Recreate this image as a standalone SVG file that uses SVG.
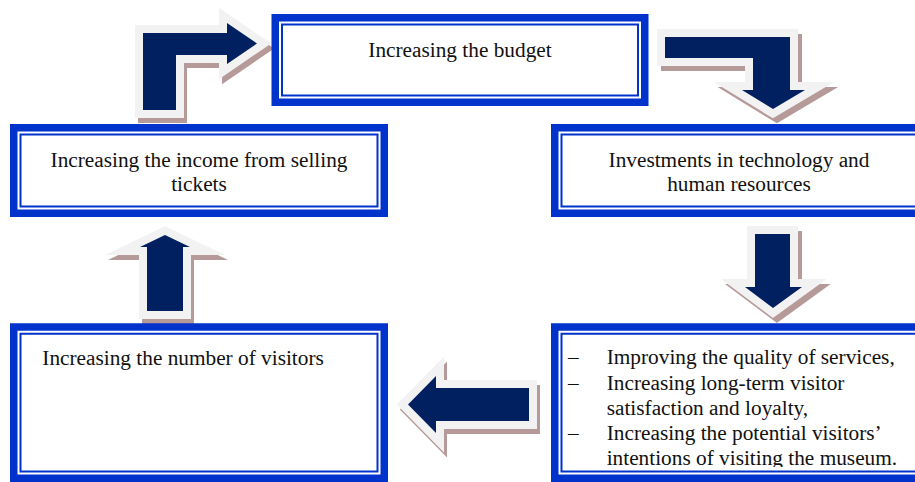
<svg xmlns="http://www.w3.org/2000/svg" xmlns:xlink="http://www.w3.org/1999/xlink" width="915" height="482" viewBox="0 0 915 482">
<style>
.sh{fill:#b69a9a;stroke:#b69a9a;stroke-width:16;stroke-linejoin:miter;stroke-miterlimit:10}
.ar{fill:#002060;stroke:#f2f2f2;stroke-width:16;stroke-linejoin:miter;stroke-miterlimit:10;paint-order:stroke}
.ob{fill:#ffffff;stroke:#0033cc;stroke-width:7.5}
.ib{fill:none;stroke:#0033cc;stroke-width:2}
.t{font-family:"Liberation Serif","Times New Roman",serif;font-size:21.3px;fill:#111}
.c{text-anchor:middle}
</style>
<defs>
<path id="a1" d="M143,110 V33 H227 V23 L257,43.5 L227,64 V55 H176 V110 Z"/>
<path id="a2" d="M665,37 H790 V90 H805 L773,109 L742,90 H753 V58 H665 Z"/>
<path id="a3" d="M755,234 H790 V287 H802 L773,308 L745,287 H755 Z"/>
<path id="a4" d="M529,388 V421 H436 V433 L408,404.5 L436,376 V388 Z"/>
<path id="a5" d="M147,311 V247 H140 L165,235 L190,247 H183 V311 Z"/>
<clipPath id="clipBR"><rect x="560" y="333" width="360" height="134"/></clipPath>
</defs>
<g id="connectors">
<use xlink:href="#a1" class="sh" transform="translate(3,5)"/>
<use xlink:href="#a1" class="ar"/>
<use xlink:href="#a2" class="sh" transform="translate(4,5)"/>
<use xlink:href="#a2" class="ar"/>
<use xlink:href="#a3" class="sh" transform="translate(4,5)"/>
<use xlink:href="#a3" class="ar"/>
<use xlink:href="#a4" class="sh" transform="translate(3,5)"/>
<use xlink:href="#a4" class="ar"/>
<use xlink:href="#a5" class="sh" transform="translate(3,5)"/>
<use xlink:href="#a5" class="ar"/>
</g>
<g id="budget">
<rect class="ob" x="275.25" y="17.75" width="369.5" height="84.5"/>
<rect class="ib" x="282" y="24.5" width="356" height="71"/>
<text class="t c" x="460" y="57.3">Increasing the budget</text>
</g>
<g id="income">
<rect class="ob" x="13.75" y="127.75" width="370.5" height="85.5"/>
<rect class="ib" x="20.5" y="134.5" width="357" height="72"/>
<text class="t c" x="199" y="167.3">Increasing the income from selling</text>
<text class="t c" x="199" y="191">tickets</text>
</g>
<g id="investments">
<rect class="ob" x="554.75" y="127.75" width="368.5" height="85.5"/>
<rect class="ib" x="561.5" y="134.5" width="355" height="72"/>
<text class="t c" x="739" y="167.3">Investments in technology and</text>
<text class="t c" x="739" y="191">human resources</text>
</g>
<g id="visitors">
<rect class="ob" x="13.75" y="327" width="370.5" height="151.25"/>
<rect class="ib" x="20.5" y="333.75" width="357" height="137.75"/>
<text class="t" x="42.3" y="365">Increasing the number of visitors</text>
</g>
<g id="quality">
<rect class="ob" x="554.75" y="327" width="368.5" height="151.25"/>
<rect class="ib" x="561.5" y="333.75" width="355" height="137.75"/>
<g clip-path="url(#clipBR)">
<text class="t" x="568" y="364.3">–</text>
<text class="t" x="606.7" y="364.3">Improving the quality of services,</text>
<text class="t" x="568" y="389.5">–</text>
<text class="t" x="606.7" y="389.5">Increasing long-term visitor</text>
<text class="t" x="606.7" y="414.7">satisfaction and loyalty,</text>
<text class="t" x="568" y="439.9">–</text>
<text class="t" x="606.7" y="439.9">Increasing the potential visitors’</text>
<text class="t" x="606.7" y="465">intentions of visiting the museum.</text>
</g>
</g>
</svg>
